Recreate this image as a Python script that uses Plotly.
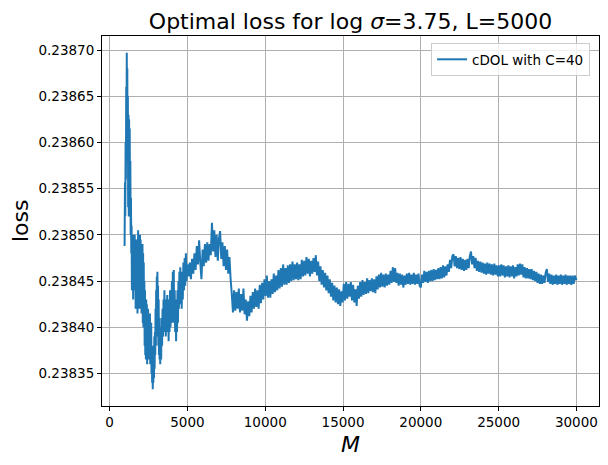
import plotly.graph_objects as go

# ---- data ----
m_early = [960, 985, 1005, 1025, 1045, 1065, 1085, 1100, 1115, 1135, 1150, 1170, 1190, 1210, 1230, 1250,
           1270, 1290, 1310, 1330, 1350, 1370, 1390, 1410, 1430, 1450, 1470, 1490, 1510, 1530, 1550, 1570,
           1590, 1610, 1630, 1650, 1670, 1690, 1710, 1730, 1750, 1770, 1790, 1810, 1830, 1850, 1870, 1890,
           1910, 1930, 1950, 1970, 1990, 2010, 2030, 2050, 2070, 2090, 2110, 2130, 2150, 2170, 2190, 2210,
           2230, 2250, 2270, 2290, 2310, 2330, 2350, 2370, 2390, 2410, 2430, 2450, 2470, 2490, 2510, 2530,
           2550, 2570, 2590, 2610, 2630, 2650, 2670, 2690, 2710, 2730, 2750, 2770, 2790, 2810, 2830, 2850,
           2870, 2890, 2910, 2930, 2950, 2970, 2990, 3010, 3030, 3050, 3070, 3090, 3110, 3130, 3150, 3170,
           3190, 3210, 3230, 3250, 3280, 3310, 3340, 3370, 3400, 3430, 3460, 3490, 3520, 3550, 3580, 3610,
           3640, 3670, 3700, 3730, 3760, 3790, 3820, 3850, 3880, 3910, 3940, 3970, 4000, 4030, 4060, 4090,
           4120, 4150, 4180, 4210, 4240, 4270, 4300, 4330, 4360, 4390, 4420, 4450, 4480, 4510, 4540, 4570,
           4600, 4630, 4660, 4700, 4740, 4780, 4820, 4860, 4900, 4940]
loss_early = [0.238488, 0.238557, 0.238520, 0.238600, 0.238560, 0.238660, 0.238610, 0.238697, 0.238630,
              0.238680, 0.238580, 0.238650, 0.238530, 0.238630, 0.238520, 0.238625, 0.238540, 0.238615,
              0.238520, 0.238580, 0.238500, 0.238540, 0.238480, 0.238510, 0.238440, 0.238490, 0.238440,
              0.238500, 0.238430, 0.238490, 0.238440, 0.238495, 0.238445, 0.238500, 0.238450, 0.238490,
              0.238420, 0.238480, 0.238440, 0.238495, 0.238430, 0.238480, 0.238415, 0.238470, 0.238505,
              0.238440, 0.238500, 0.238420, 0.238490, 0.238430, 0.238500, 0.238440, 0.238495, 0.238420,
              0.238480, 0.238415, 0.238470, 0.238430, 0.238490, 0.238405, 0.238480, 0.238400, 0.238470,
              0.238410, 0.238450, 0.238380, 0.238440, 0.238370, 0.238420, 0.238365, 0.238430, 0.238380,
              0.238425, 0.238360, 0.238415, 0.238375, 0.238420, 0.238365, 0.238410, 0.238365, 0.238400,
              0.238375, 0.238415, 0.238360, 0.238395, 0.238370, 0.238405, 0.238350, 0.238380, 0.238340,
              0.238370, 0.238333, 0.238360, 0.238340, 0.238380, 0.238345, 0.238390, 0.238355, 0.238395,
              0.238370, 0.238420, 0.238380, 0.238440, 0.238400, 0.238455, 0.238390, 0.238460, 0.238400,
              0.238445, 0.238380, 0.238430, 0.238370, 0.238410, 0.238365, 0.238400, 0.238360, 0.238395,
              0.238365, 0.238410, 0.238380, 0.238420, 0.238390, 0.238430, 0.238395, 0.238440, 0.238400,
              0.238425, 0.238390, 0.238430, 0.238395, 0.238435, 0.238400, 0.238420, 0.238385, 0.238430,
              0.238395, 0.238440, 0.238400, 0.238435, 0.238410, 0.238450, 0.238405, 0.238460, 0.238420,
              0.238462, 0.238405, 0.238440, 0.238395, 0.238430, 0.238385, 0.238420, 0.238395, 0.238440,
              0.238405, 0.238450, 0.238420, 0.238460, 0.238425, 0.238465, 0.238430, 0.238455, 0.238420,
              0.238460, 0.238430, 0.238470, 0.238440, 0.238475, 0.238445, 0.238480, 0.238450]

m_mid = [5000, 5075, 5150, 5225, 5300, 5375, 5450, 5525, 5600, 5675, 5750, 5825, 5900, 5975, 6050, 6125,
         6200, 6275, 6350, 6425, 6500, 6575, 6650, 6725, 6800, 6875, 6950, 7025, 7100, 7175, 7250, 7325,
         7400, 7475, 7550, 7625, 7700, 7775, 7850, 7925, 8000, 8075, 8150, 8225, 8300, 8375, 8450, 8525,
         8600, 8675, 8750, 8825, 8900, 8975, 9050, 9125, 9200, 9275, 9350, 9425, 9500, 9575, 9650, 9725,
         9800, 9875, 9950, 10025, 10100, 10175, 10250, 10325, 10400, 10475, 10550, 10625, 10700, 10775,
         10850, 10925, 11000, 11075, 11150, 11225, 11300, 11375, 11450, 11525, 11600, 11675, 11750, 11825,
         11900, 11975, 12050, 12125, 12200, 12275, 12350, 12425, 12500, 12575, 12650, 12725, 12800, 12875,
         12950, 13025, 13100, 13175, 13250, 13325, 13400, 13475, 13550, 13625, 13700, 13775, 13850, 13925,
         14000, 14075, 14150, 14225, 14300, 14375, 14450, 14525, 14600, 14675, 14750, 14825, 14900, 14975,
         15050, 15125, 15200, 15275, 15350, 15425, 15500, 15575, 15650, 15725, 15800, 15875, 15950, 16025,
         16100, 16175, 16250, 16325, 16400, 16475, 16550, 16625, 16700, 16775]
loss_mid = [0.238468, 0.238455, 0.238470, 0.238452, 0.238474, 0.238458, 0.238480, 0.238462, 0.238488,
            0.238468, 0.238494, 0.238470, 0.238452, 0.238484, 0.238466, 0.238490, 0.238470, 0.238492,
            0.238472, 0.238490, 0.238478, 0.238513, 0.238482, 0.238505, 0.238476, 0.238500, 0.238472,
            0.238496, 0.238504, 0.238474, 0.238492, 0.238466, 0.238488, 0.238462, 0.238484, 0.238458,
            0.238476, 0.238452, 0.238436, 0.238416, 0.238440, 0.238418, 0.238438, 0.238420, 0.238442,
            0.238416, 0.238436, 0.238418, 0.238442, 0.238414, 0.238430, 0.238407, 0.238428, 0.238412,
            0.238434, 0.238416, 0.238438, 0.238420, 0.238442, 0.238422, 0.238440, 0.238420, 0.238446,
            0.238426, 0.238448, 0.238430, 0.238452, 0.238434, 0.238456, 0.238432, 0.238450, 0.238432,
            0.238452, 0.238436, 0.238458, 0.238438, 0.238456, 0.238440, 0.238462, 0.238442, 0.238464,
            0.238444, 0.238468, 0.238446, 0.238464, 0.238446, 0.238467, 0.238448, 0.238468, 0.238450,
            0.238471, 0.238451, 0.238468, 0.238452, 0.238470, 0.238451, 0.238468, 0.238452, 0.238473,
            0.238455, 0.238472, 0.238456, 0.238476, 0.238458, 0.238474, 0.238455, 0.238472, 0.238458,
            0.238475, 0.238460, 0.238478, 0.238456, 0.238471, 0.238450, 0.238466, 0.238446, 0.238462,
            0.238443, 0.238459, 0.238440, 0.238456, 0.238437, 0.238452, 0.238433, 0.238448, 0.238429,
            0.238445, 0.238427, 0.238443, 0.238425, 0.238441, 0.238423, 0.238439, 0.238427, 0.238447,
            0.238429, 0.238449, 0.238431, 0.238447, 0.238433, 0.238449, 0.238429, 0.238446, 0.238427,
            0.238441, 0.238423, 0.238445, 0.238431, 0.238449, 0.238433, 0.238451, 0.238435, 0.238449,
            0.238436, 0.238453, 0.238437, 0.238451, 0.238439]

m_late = [16850, 16925, 17000, 17075, 17150, 17225, 17300, 17375, 17450, 17525, 17600, 17675, 17750,
          17825, 17900, 17975, 18050, 18125, 18200, 18275, 18350, 18425, 18500, 18575, 18650, 18725,
          18800, 18875, 18950, 19025, 19100, 19175, 19250, 19325, 19400, 19475, 19550, 19625, 19700,
          19775, 19850, 19925, 20000, 20075, 20150, 20225, 20300, 20375, 20450, 20525, 20600, 20675,
          20750, 20825, 20900, 20975, 21050, 21125, 21200, 21275, 21350, 21425, 21500, 21575, 21650,
          21725, 21800, 21875, 21950, 22025, 22100, 22175, 22250, 22325, 22400, 22475, 22550, 22625,
          22700, 22775, 22850, 22925, 23000, 23075, 23150, 23225, 23300, 23375, 23450, 23525, 23600,
          23675, 23750, 23825, 23900, 23975, 24050, 24125, 24200, 24275, 24350, 24425, 24500, 24575,
          24650, 24725, 24800, 24875, 24950, 25025, 25100, 25175, 25250, 25325, 25400, 25475, 25550,
          25625, 25700, 25775, 25850, 25925, 26000, 26075, 26150, 26225, 26300, 26375, 26450, 26525,
          26600, 26675, 26750, 26825, 26900, 26975, 27050, 27125, 27200, 27275, 27350, 27425, 27500,
          27575, 27650, 27725, 27800, 27875, 27950, 28025, 28100, 28175, 28250, 28325, 28400, 28475,
          28550, 28625, 28700, 28775, 28850, 28925, 29000, 29075, 29150, 29225, 29300, 29375, 29450,
          29525, 29600, 29675, 29750, 29825, 29900, 30000]
loss_late = [0.238453, 0.238438, 0.238452, 0.238437, 0.238455, 0.238441, 0.238457, 0.238443, 0.238459,
             0.238444, 0.238457, 0.238443, 0.238458, 0.238445, 0.238457, 0.238446, 0.238461, 0.238448,
             0.238465, 0.238449, 0.238464, 0.238448, 0.238459, 0.238445, 0.238458, 0.238446, 0.238457,
             0.238443, 0.238456, 0.238446, 0.238458, 0.238447, 0.238459, 0.238446, 0.238457, 0.238447,
             0.238459, 0.238446, 0.238457, 0.238447, 0.238458, 0.238445, 0.238443, 0.238457, 0.238448,
             0.238461, 0.238449, 0.238460, 0.238448, 0.238461, 0.238450, 0.238462, 0.238450, 0.238463,
             0.238451, 0.238462, 0.238452, 0.238464, 0.238452, 0.238465, 0.238453, 0.238467, 0.238454,
             0.238466, 0.238456, 0.238468, 0.238460, 0.238473, 0.238464, 0.238477, 0.238479, 0.238466,
             0.238477, 0.238464, 0.238475, 0.238463, 0.238476, 0.238462, 0.238474, 0.238461, 0.238473,
             0.238462, 0.238474, 0.238464, 0.238477, 0.238482, 0.238468, 0.238477, 0.238464, 0.238475,
             0.238461, 0.238472, 0.238460, 0.238471, 0.238459, 0.238470, 0.238458, 0.238469, 0.238457,
             0.238470, 0.238458, 0.238469, 0.238457, 0.238468, 0.238456, 0.238469, 0.238457, 0.238467,
             0.238455, 0.238467, 0.238455, 0.238468, 0.238456, 0.238467, 0.238454, 0.238466, 0.238455,
             0.238467, 0.238454, 0.238466, 0.238455, 0.238467, 0.238453, 0.238465, 0.238455, 0.238468,
             0.238456, 0.238469, 0.238457, 0.238468, 0.238454, 0.238465, 0.238453, 0.238464, 0.238453,
             0.238463, 0.238452, 0.238463, 0.238451, 0.238461, 0.238450, 0.238460, 0.238448, 0.238458,
             0.238447, 0.238457, 0.238447, 0.238456, 0.238448, 0.238459, 0.238463, 0.238449, 0.238458,
             0.238447, 0.238457, 0.238446, 0.238456, 0.238447, 0.238457, 0.238446, 0.238456, 0.238447,
             0.238457, 0.238446, 0.238456, 0.238447, 0.238457, 0.238446, 0.238456, 0.238447, 0.238456,
             0.238446, 0.238456, 0.238447, 0.238456, 0.238451]

x_ticks = [0, 5000, 10000, 15000, 20000, 25000, 30000]
y_ticks = [0.23835, 0.23840, 0.23845, 0.23850, 0.23855, 0.23860, 0.23865, 0.23870]
series_name = "cDOL with C=40"
title_text = "Optimal loss for log <i>σ</i>=3.75, L=5000"

m_all = m_early + m_mid + m_late
loss_all = loss_early + loss_mid + loss_late

# matplotlib-like 5% margins
xspan = max(m_all) - min(m_all)
yspan = max(loss_all) - min(loss_all)
xrange_ = [min(m_all) - 0.05 * xspan, max(m_all) + 0.05 * xspan]
yrange_ = [min(loss_all) - 0.05 * yspan, max(loss_all) + 0.05 * yspan]

FONT = "DejaVu Sans"

fig = go.Figure()
fig.add_trace(go.Scatter(x=m_all, y=loss_all, mode="lines", name=series_name,
                         line=dict(color="#1f77b4", width=2, simplify=False)))

axis_common = dict(showline=True, linecolor="black", linewidth=1, mirror=True,
                   ticks="outside", ticklen=4, tickwidth=1, tickcolor="black",
                   showgrid=True, gridcolor="#b0b0b0", gridwidth=1, zeroline=False,
                   tickfont=dict(family=FONT, size=13.5, color="black"))

fig.update_layout(
    width=608, height=465,
    margin=dict(l=102, r=9, t=36, b=59),
    paper_bgcolor="white", plot_bgcolor="white",
    showlegend=True,
    title=dict(text=title_text, x=0.5, xref="paper", xanchor="center",
               y=1 - 21 / 465, yref="container", yanchor="middle",
               font=dict(family=FONT, size=22, color="black")),
    legend=dict(x=0.982, y=0.981, xanchor="right", yanchor="top",
                bgcolor="rgba(255,255,255,0.8)", bordercolor="#cccccc", borderwidth=1,
                font=dict(family=FONT, size=13.5, color="black")),
    xaxis=dict(range=xrange_, tickvals=x_ticks, ticktext=[str(t) for t in x_ticks], **axis_common),
    yaxis=dict(range=yrange_, tickvals=y_ticks, ticktext=[f"{t:.5f}" for t in y_ticks], **axis_common),
    annotations=[
        dict(text="<i>M</i>", xref="paper", yref="paper", x=0.5, y=-(444 - 406) / 370,
             xanchor="center", yanchor="middle", showarrow=False,
             font=dict(family=FONT, size=22, color="black")),
        dict(text="loss", xref="paper", yref="paper", x=-(102 - 20) / 497, y=0.5,
             xanchor="center", yanchor="middle", textangle=-90, showarrow=False,
             font=dict(family=FONT, size=22, color="black")),
    ],
)

fig.write_html("out.html", config={"displayModeBar": False},
               post_script="document.body.style.margin='0';document.body.style.overflow='hidden';")
